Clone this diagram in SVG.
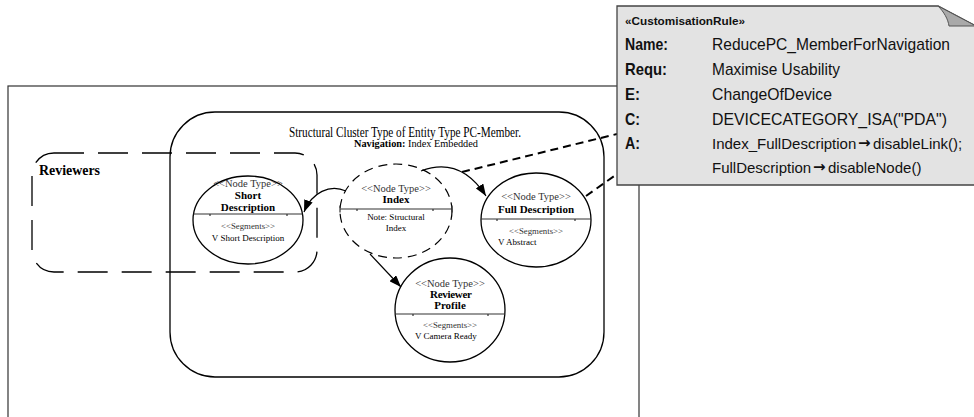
<svg xmlns="http://www.w3.org/2000/svg" width="974" height="417" viewBox="0 0 974 417">
<defs>
<marker id="ah" viewBox="0 0 12 9" refX="12" refY="4.5" markerWidth="12" markerHeight="9" markerUnits="userSpaceOnUse" orient="auto">
<path d="M0,0 L12,4.5 L0,9 Z" fill="#000"/>
</marker>
<style>
.ser{font-family:"Liberation Serif","Times New Roman",serif;fill:#000}
.sans{font-family:"Liberation Sans",Arial,sans-serif;fill:#111}
.nt{font-size:10.5px;text-anchor:middle;fill:#333}
.nb{font-size:11px;font-weight:bold;text-anchor:middle}
.sg{font-size:8.8px;text-anchor:middle;fill:#333}
.sv{font-size:9px;text-anchor:middle}
.node{fill:#fff;stroke:#000;stroke-width:1.3}
.div{stroke:#333;stroke-width:1.2;fill:none}
.conn{fill:none;stroke:#000;stroke-width:1.2}
.dash{fill:none;stroke:#000;stroke-width:2;stroke-dasharray:8 5}
.lbl{font-size:17px;font-weight:bold}
.val{font-size:17px}
.val2{font-size:15px}
.arr{font-family:"DejaVu Sans",sans-serif;font-weight:bold;font-size:15px;fill:#111}
</style>
</defs>
<rect width="974" height="417" fill="#fff"/>

<g id="frame">
<rect x="8" y="86" width="631" height="350" fill="none" stroke="#333" stroke-width="1.2"/>
</g>

<g id="cluster">
<rect x="170" y="112" width="434" height="265" rx="45" ry="45" fill="none" stroke="#000" stroke-width="1.3"/>
<text class="ser" x="405" y="137" font-size="15" text-anchor="middle" textLength="232" lengthAdjust="spacingAndGlyphs">Structural Cluster Type of Entity Type PC-Member.</text>
<text class="ser" x="416" y="147" font-size="9.5" text-anchor="middle" textLength="124" lengthAdjust="spacingAndGlyphs"><tspan font-weight="bold">Navigation:</tspan> Index Embedded</text>
</g>

<g id="reviewers">
<rect x="32" y="153" width="285" height="119" rx="22" ry="22" fill="none" stroke="#000" stroke-width="1.3" stroke-dasharray="30 14"/>
<text class="ser" x="39" y="175" font-size="14" font-weight="bold" textLength="61" lengthAdjust="spacingAndGlyphs">Reviewers</text>
</g>

<g id="short-description">
<ellipse class="node" cx="248" cy="220" rx="55" ry="44"/>
<path class="div" d="M193.5,214 H302.5 M210,214 v2 M287,214 v2"/>
<text class="ser nt" x="248" y="187">&lt;&lt;Node Type&gt;&gt;</text>
<text class="ser nb" x="248" y="199">Short</text>
<text class="ser nb" x="248" y="211">Description</text>
<text class="ser sg" x="248" y="229">&lt;&lt;Segments&gt;&gt;</text>
<text class="ser sv" x="248" y="241">V Short Description</text>
</g>

<g id="index">
<ellipse cx="396" cy="211" rx="56" ry="47" fill="#fff" stroke="#000" stroke-width="1.2" stroke-dasharray="9 6"/>
<path class="div" d="M340,209 H452 M340,205.5 v7 M452,205.5 v7 M357,209 v2 M433,209 v2"/>
<text class="ser nt" x="396" y="192">&lt;&lt;Node Type&gt;&gt;</text>
<text class="ser nb" x="396" y="203">Index</text>
<text class="ser sv" x="396" y="220">Note: Structural</text>
<text class="ser sv" x="396" y="231">Index</text>
</g>

<g id="full-description">
<ellipse class="node" cx="536" cy="220" rx="55" ry="47"/>
<path class="div" d="M481,219 H591 M497,219 v2 M575,219 v2"/>
<text class="ser nt" x="536" y="200">&lt;&lt;Node Type&gt;&gt;</text>
<text class="ser nb" x="536" y="213">Full Description</text>
<text class="ser sg" x="536" y="234">&lt;&lt;Segments&gt;&gt;</text>
<text class="ser sv" x="498" y="245" style="text-anchor:start">V Abstract</text>
</g>

<g id="reviewer-profile">
<ellipse class="node" cx="450" cy="310" rx="55" ry="52"/>
<path class="div" d="M395.2,314 H504.8 M413,314 v2 M488,314 v2"/>
<text class="ser nt" x="450" y="287">&lt;&lt;Node Type&gt;&gt;</text>
<text class="ser nb" x="451" y="298" textLength="42" lengthAdjust="spacing">Reviewer</text>
<text class="ser nb" x="450" y="309">Profile</text>
<text class="ser sg" x="450" y="328">&lt;&lt;Segments&gt;&gt;</text>
<text class="ser sv" x="415" y="339" style="text-anchor:start">V Camera Ready</text>
</g>

<g id="connectors">
<path class="conn" d="M346,191 C330,184 312,192 304,212" marker-end="url(#ah)"/>
<path class="conn" d="M421,171 Q460,156 486,196" marker-end="url(#ah)"/>
<path class="conn" d="M370,254 L401,287" marker-end="url(#ah)"/>
<path class="dash" d="M462,172 L617,134"/>
<path class="dash" d="M586,196 L617,174"/>
</g>

<g id="rule-note">
<path d="M617,6 L938,6 L976,26 L976,185 L617,185 Z" fill="#e3e3e3" stroke="#444" stroke-width="1.3"/>
<path d="M938,6 C944,12 948,19 949,26 L976,26 Z" fill="#a9a9a9" stroke="#555" stroke-width="1"/>
<text class="sans" x="625" y="25" font-size="11" font-weight="bold" textLength="120" lengthAdjust="spacingAndGlyphs">«CustomisationRule»</text>
<text class="sans lbl" x="625" y="50" textLength="43" lengthAdjust="spacingAndGlyphs">Name:</text>
<text class="sans val" x="712" y="50" textLength="238" lengthAdjust="spacingAndGlyphs">ReducePC_MemberForNavigation</text>
<text class="sans lbl" x="625" y="74.5" textLength="42" lengthAdjust="spacingAndGlyphs">Requ:</text>
<text class="sans val" x="712" y="74.5" textLength="128" lengthAdjust="spacingAndGlyphs">Maximise Usability</text>
<text class="sans lbl" x="625" y="99.5" textLength="15" lengthAdjust="spacingAndGlyphs">E:</text>
<text class="sans val" x="712" y="99.5" textLength="120" lengthAdjust="spacingAndGlyphs">ChangeOfDevice</text>
<text class="sans lbl" x="625" y="124.5" textLength="15" lengthAdjust="spacingAndGlyphs">C:</text>
<text class="sans val" x="712" y="124.5" textLength="235" lengthAdjust="spacingAndGlyphs">DEVICECATEGORY_ISA("PDA")</text>
<text class="sans lbl" x="625" y="148.5" textLength="15" lengthAdjust="spacingAndGlyphs">A:</text>
<text class="sans val2" x="712" y="148.5">Index_FullDescription</text>
<text class="arr" x="858" y="147.5">→</text>
<text class="sans val2" x="873" y="148.5">disableLink();</text>
<text class="sans val2" x="712" y="172.5">FullDescription</text>
<text class="arr" x="813" y="171.5">→</text>
<text class="sans val2" x="828" y="172.5">disableNode()</text>
</g>
</svg>
